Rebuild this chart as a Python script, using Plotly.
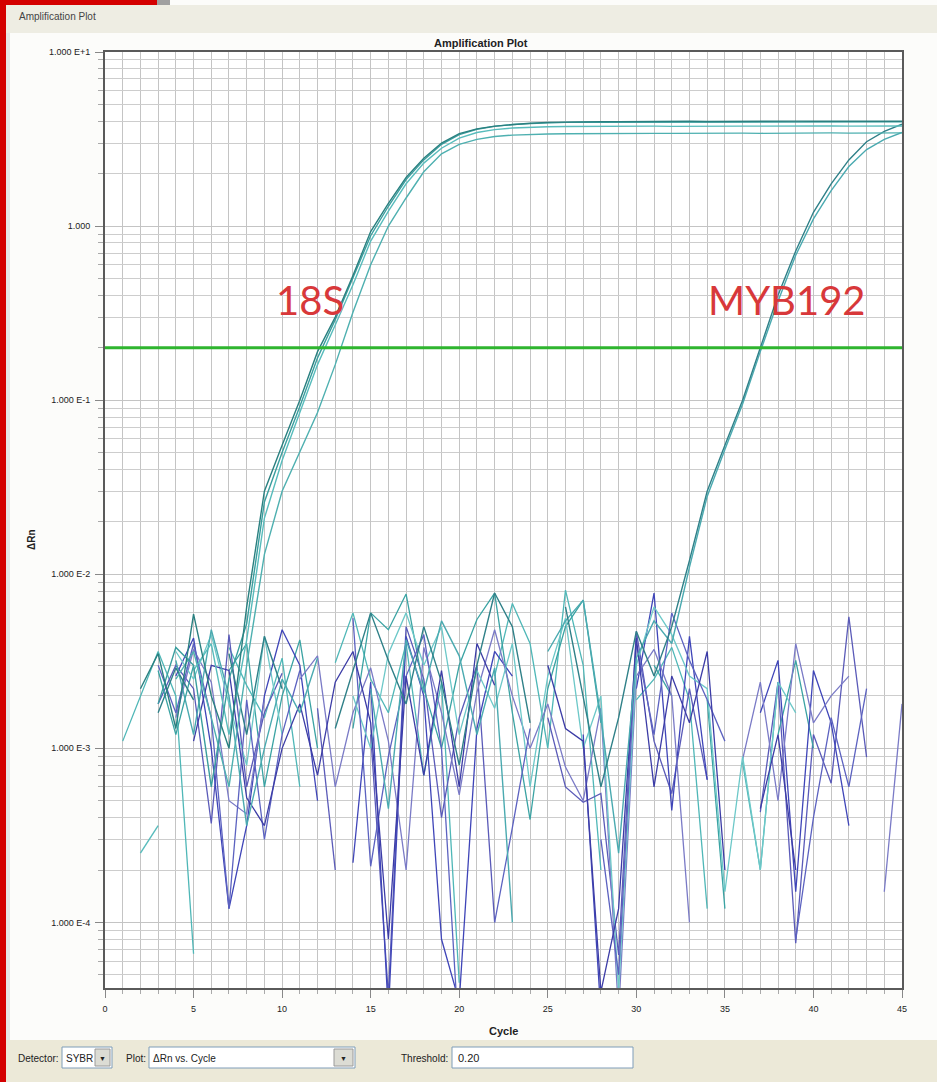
import math
import plotly.graph_objects as go

# ---------------- data ----------------
CYCLES = list(range(1, 46))
THRESHOLD = 0.20

# 18S wells: baseline noise (cycles 1-7) + amplification (cycles 8-45)
S18_1 = [None, 2.2e-3, 3.5e-3, 1.3e-3, 5.9e-3, 2.0e-3, 1.0e-3,
         0.0065, 0.030, 0.055, 0.10, 0.19, 0.30, 0.52, 0.93, 1.35, 1.9, 2.45, 3.0, 3.4,
         3.62, 3.75, 3.84, 3.90, 3.94, 3.96, 3.97, 3.98, 3.98, 3.99, 3.99, 4.00, 4.00, 3.99,
         4.00, 4.01, 4.00, 4.01, 4.01, 4.00, 4.01, 4.01, 4.00, 4.00, 4.00]
S18_2 = [None, None, 1.8e-3, 3.8e-3, 3.0e-3, 6.0e-4, 2.5e-3,
         0.0052, 0.026, 0.050, 0.092, 0.175, 0.29, 0.50, 0.88, 1.30, 1.85, 2.4, 2.95, 3.35,
         3.60, 3.74, 3.83, 3.88, 3.92, 3.94, 3.95, 3.95, 3.96, 3.96, 3.96, 3.97, 3.96, 3.97,
         3.97, 3.96, 3.97, 3.97, 3.96, 3.97, 3.97, 3.96, 3.97, 3.97, 3.97]
S18_3 = [None, 2.5e-4, 3.6e-4, None, 2.8e-3, 4.0e-3, 1.2e-3,
         0.0042, 0.021, 0.045, 0.085, 0.16, 0.27, 0.46, 0.82, 1.22, 1.75, 2.3, 2.8, 3.2,
         3.45, 3.58, 3.66, 3.70, 3.72, 3.73, 3.74, 3.74, 3.75, 3.75, 3.75, 3.74, 3.75, 3.75,
         3.76, 3.75, 3.75, 3.76, 3.75, 3.76, 3.76, 3.75, 3.76, 3.76, 3.76]
S18_4 = [None, None, None, 2.5e-3, 3.6e-3, 1.5e-3, 6.0e-4,
         0.0030, 0.013, 0.030, 0.050, 0.085, 0.16, 0.32, 0.60, 1.00, 1.45, 2.05, 2.6, 2.95,
         3.15, 3.27, 3.33, 3.37, 3.38, 3.39, 3.40, 3.40, 3.41, 3.40, 3.41, 3.41, 3.42, 3.41,
         3.42, 3.42, 3.41, 3.42, 3.42, 3.42, 3.43, 3.42, 3.43, 3.43, 3.43]

# MYB192 wells: baseline noise (cycles 1-31) + amplification (cycles 32-45)
MYB_1 = [None, None, 1.6e-3, 2.9e-3, 1.9e-3, None, 3.5e-3, 1.2e-3, 4.4e-3, 2.2e-3,
         None, None, 1.3e-3, 2.8e-3, 6.0e-3, 3.2e-3, 1.8e-3, 5.0e-3, 2.4e-3, 8.0e-4,
         3.0e-3, 7.8e-3, 5.0e-3, 1.4e-3, None, 6.5e-3, 2.0e-3, 6.0e-4, 1.5e-3, 4.7e-3,
         2.6e-3,
         0.005, 0.012, 0.030, 0.055, 0.10, 0.20, 0.40, 0.72, 1.20, 1.75, 2.40, 3.05, 3.50, 3.85]
MYB_2 = [None, None, None, 3.2e-3, 1.2e-3, 4.8e-3, 2.0e-3, 3.6e-4, 1.0e-3, 2.5e-3,
         1.6e-3, 3.3e-3, None, None, 2.2e-3, 4.5e-4, 4.2e-3, 2.1e-3, 5.4e-3, 3.4e-3,
         1.2e-3, 2.9e-3, 1.0e-4, None, 3.6e-3, 5.4e-3, 7.1e-3, 1.5e-3, 2.5e-4, 3.3e-3,
         5.4e-3,
         0.004, 0.011, 0.028, 0.052, 0.095, 0.19, 0.37, 0.68, 1.10, 1.60, 2.20, 2.75, 3.15, 3.45]

# non-amplifying wells (baseline noise, negative values not drawn)
NOISE_B1 = [None, None, 1.8e-3, 3.0e-3, 2.2e-3, 3.7e-4, 4.5e-3, 6.0e-4, 1.6e-3, 2.7e-3,
            None, 1.7e-3, 2.0e-4, None, 1.2e-3, 3.8e-5, 5.0e-3, 2.5e-3, 4.0e-4, 1.5e-3,
            3.0e-3, 1.0e-4, None, None, 1.5e-3, 6.0e-4, 4.9e-4, 5.5e-4, 6.5e-5, 4.7e-3,
            1.1e-3, 5.5e-4, 2.2e-3, 6.6e-4, None, None, 4.3e-4, 2.4e-3, 7.6e-5, 1.2e-3,
            6.3e-4, 5.7e-3, 8.9e-4, None, None]
NOISE_B2 = [None, None, None, 2.6e-3, 4.3e-3, 1.0e-3, 1.2e-4, 3.6e-4, 2.0e-3, 4.8e-3,
            3.0e-3, 5.0e-4, None, 2.2e-4, 2.4e-3, 3.0e-5, 4.4e-3, 2.0e-3, 8.0e-5, 3.5e-5,
            1.3e-3, 3.6e-3, 2.6e-3, None, None, None, 1.2e-3, 3.0e-5, None, 2.2e-3,
            7.8e-3, 4.4e-4, 4.4e-3, 6.6e-4, None, None, 1.6e-3, 3.2e-3, 1.5e-4, 2.8e-3,
            1.4e-3, 3.6e-4, None, None, None]
NOISE_B3 = [None, 2.6e-3, None, 1.5e-3, 3.7e-3, 2.4e-3, 5.0e-4, 4.2e-4, 1.9e-3, None,
            2.5e-3, 3.4e-3, 6.0e-4, 1.6e-3, 2.9e-3, 1.1e-3, 2.0e-4, 3.8e-3, 1.6e-3, 5.4e-4,
            2.1e-3, 4.8e-3, 2.0e-3, 1.0e-3, 1.8e-3, 7.8e-4, 5.0e-4, 1.7e-3, 3.0e-5, 2.6e-3,
            3.7e-3, 2.0e-3, 1.0e-4, None, None, 8.6e-4, 2.4e-3, 5.0e-4, 4.0e-3, 1.4e-3,
            2.0e-3, 2.6e-3, None, 1.5e-4, 1.8e-3]
NOISE_B4 = [None, None, 3.0e-3, 1.6e-3, 4.0e-3, 1.5e-3, 1.2e-4, 1.9e-3, 3.0e-4, 1.2e-3,
            2.8e-3, None, None, 5.6e-3, 2.1e-4, 9.0e-4, 2.6e-3, 4.5e-3, 1.0e-3, 2.0e-5,
            None, 1.0e-4, 3.5e-4, 1.3e-3, None, None, None, 3.0e-4, 5.0e-5, 4.0e-3,
            1.2e-3, 6.0e-3, 3.2e-3, 1.9e-3, 1.1e-3, None, None, None, 8.0e-5, 4.0e-4,
            1.5e-3, 6.0e-4, 2.2e-3, None, None]
NOISE_B5 = [None, None, None, None, 1.1e-3, 3.0e-3, 2.8e-3, 5.2e-4, 3.6e-4, 1.0e-3,
            1.8e-3, 7.0e-4, 2.4e-3, 3.6e-3, 1.4e-3, 8.0e-5, 2.6e-3, 7.0e-4, 2.8e-3, 6.0e-4,
            4.0e-3, 2.3e-3, None, None, 3.0e-3, 1.3e-3, 1.1e-3, 4.0e-5, 1.2e-4, 4.3e-3,
            6.0e-4, 2.6e-3, 1.4e-3, 3.6e-3, 2.0e-4, None, 4.5e-4, 1.2e-3, 2.0e-4, None,
            2.2e-3, None, None, None, None]
NOISE_G1 = [1.1e-3, 2.0e-3, 3.6e-3, 2.0e-3, 6.6e-5, None, 3.8e-3, 2.3e-3, 1.5e-3, 3.3e-3,
            6.0e-4, None, 3.1e-3, 6.0e-3, 2.5e-3, 1.6e-3, 4.0e-3, 7.0e-4, 2.4e-3, 4.5e-5,
            None, 2.6e-3, 6.8e-3, 4.0e-3, 1.0e-3, 8.1e-3, 3.0e-3, 2.0e-4, None, 1.9e-3,
            2.5e-3, 3.8e-3, 1.9e-3, 1.2e-4, None, 8.3e-4, 2.0e-4, 2.4e-3, None, None,
            None, None, None, None, None]
NOISE_G2 = [None, None, 2.8e-3, 1.2e-3, 3.0e-3, None, 2.8e-3, 4.0e-3, 6.0e-4, 2.0e-3,
            4.2e-3, 1.0e-3, None, 1.3e-3, 6.0e-3, 4.8e-3, 7.7e-3, 2.2e-3, 1.0e-3, 3.0e-3,
            5.5e-3, 7.8e-3, 1.6e-3, 3.9e-4, 2.2e-3, 5.0e-3, 7.1e-3, 1.4e-3, None, None,
            3.0e-3, 2.0e-3, None, 1.9e-3, 1.2e-4, None, None, 1.2e-3, 3.2e-3, 1.0e-3,
            None, None, None, None, None]
NOISE_G3 = [None, None, None, 3.6e-3, 2.5e-3, 4.5e-3, 1.8e-3, 8.0e-4, 4.4e-3, 1.2e-3,
            None, None, None, 2.0e-3, 1.0e-3, 3.5e-3, 6.0e-3, 3.0e-3, 5.0e-3, 1.2e-3,
            2.8e-3, 1.7e-3, 4.0e-3, 6.0e-4, 2.6e-3, 5.6e-3, 1.0e-3, 2.0e-3, 4.0e-5, 3.0e-3,
            6.5e-3, 4.5e-3, 2.6e-3, 2.2e-3, 1.5e-4, 9.0e-4, 2.0e-4, 2.4e-3, 1.6e-3, None,
            None, None, None, None, None]

Y_TICK_VALUES = [10, 1, 0.1, 0.01, 0.001, 0.0001]
Y_TICK_TEXT = ["1.000 E+1", "1.000", "1.000 E-1", "1.000 E-2", "1.000 E-3", "1.000 E-4"]
X_TICK_VALUES = [0, 5, 10, 15, 20, 25, 30, 35, 40, 45]

# ---------------- geometry helpers (layout only) ----------------
W_PX, H_PX = 937, 1082
L, R, T, B = 105, 902, 52, 988


def pxx(x):
    return (x - L) / (R - L)


def pxy(y):
    return (B - y) / (B - T)


fig = go.Figure()

noise_sets = [
    (NOISE_G1, "#4fb7b7"), (NOISE_B1, "#5a5ab8"), (NOISE_G2, "#3aa3a3"),
    (NOISE_B2, "#3f45b8"), (NOISE_B3, "#7a7ac6"), (NOISE_G3, "#6cc8c8"),
    (NOISE_B4, "#5c62c0"), (NOISE_B5, "#3c3ca6"),
]
for vals, col in noise_sets:
    fig.add_trace(go.Scatter(x=CYCLES, y=vals, mode="lines",
                             line=dict(color=col, width=1.3),
                             connectgaps=False, showlegend=False, hoverinfo="skip"))

amp_sets = [
    (MYB_2, "#4aaab0"), (MYB_1, "#2f8088"),
    (S18_4, "#4eb0b0"), (S18_3, "#58bcbc"), (S18_2, "#3a9e9e"), (S18_1, "#2a8080"),
]
for vals, col in amp_sets:
    fig.add_trace(go.Scatter(x=CYCLES, y=vals, mode="lines",
                             line=dict(color=col, width=1.4),
                             connectgaps=False, showlegend=False, hoverinfo="skip"))

# threshold line
fig.add_trace(go.Scatter(x=[0, 45], y=[THRESHOLD, THRESHOLD], mode="lines",
                         line=dict(color="#2fb52f", width=3.2),
                         showlegend=False, hoverinfo="skip"))

minor_y = [m * 10.0 ** d for d in range(-5, 1) for m in range(2, 10)]

font_ui = "Liberation Sans, Arial, sans-serif"

fig.update_layout(
    width=W_PX, height=H_PX,
    margin=dict(l=L, r=W_PX - R, t=T, b=H_PX - B),
    paper_bgcolor="#fcfcfa",
    plot_bgcolor="#ffffff",
    font=dict(family=font_ui, size=9, color="#222"),
    xaxis=dict(
        range=[0, 45], tickvals=X_TICK_VALUES, ticks="outside", ticklen=8,
        tickcolor="#888", tickfont=dict(size=9, color="#222"),
        showgrid=True, gridcolor="#c4c4c4", gridwidth=1,
        minor=dict(dtick=1, showgrid=True, gridcolor="#c4c4c4", gridwidth=1,
                   ticks="outside", ticklen=4, tickcolor="#aaa"),
        showline=True, linecolor="#5a5a5a", linewidth=2, mirror=True,
        zeroline=False, ticklabelstandoff=3,
    ),
    yaxis=dict(
        type="log", range=[math.log10(4.2e-5), 1],
        tickvals=Y_TICK_VALUES, ticktext=Y_TICK_TEXT,
        ticks="outside", ticklen=8, tickcolor="#888",
        tickfont=dict(size=9, color="#222"),
        showgrid=True, gridcolor="#c4c4c4", gridwidth=1,
        minor=dict(tickvals=minor_y, showgrid=True, gridcolor="#cdcdcd", gridwidth=1,
                   ticks="outside", ticklen=5, tickcolor="#aaa"),
        showline=True, linecolor="#5a5a5a", linewidth=2, mirror=True,
        zeroline=False, ticklabelstandoff=3,
    ),
)

shapes = []


def rect(x0, y0, x1, y1, fill, line_col=None, lw=0, layer="below"):
    shapes.append(dict(type="rect", xref="paper", yref="paper",
                       x0=pxx(x0), x1=pxx(x1), y0=pxy(y1), y1=pxy(y0),
                       fillcolor=fill, line=dict(color=line_col or fill, width=lw),
                       layer=layer))


# window chrome
rect(0, 5, W_PX, 33, "#eeede3")
rect(5, 33, 10, 1040, "#e6e6e6")
rect(0, 1040, W_PX, H_PX, "#ece9d8")
rect(0, 0, 6, H_PX, "#d40000", layer="above")
rect(0, 0, 157, 5, "#d40000", layer="above")
rect(157, 0, 170, 5, "#a0a0a0", layer="above")
# toolbar controls
rect(62, 1047, 112, 1068, "#ffffff", "#7f9db9", 1)
rect(95, 1049, 110, 1066, "#dcdcd4", "#9a9a9a", 1)
rect(149, 1047, 355, 1068, "#ffffff", "#7f9db9", 1)
rect(334, 1049, 353, 1066, "#dcdcd4", "#9a9a9a", 1)
rect(452, 1047, 633, 1068, "#ffffff", "#7f9db9", 1)

annotations = [
    dict(text="Amplification Plot", x=pxx(17), y=pxy(17), xanchor="left", yanchor="middle",
         font=dict(size=10, color="#444"), showarrow=False),
    dict(text="<b>Amplification Plot</b>", x=pxx(481), y=pxy(43), xanchor="center",
         yanchor="middle", font=dict(size=11, color="#222"), showarrow=False),
    dict(text="<b>Cycle</b>", x=pxx(503), y=pxy(1031), xanchor="center", yanchor="middle",
         font=dict(size=11, color="#222"), showarrow=False),
    dict(text="<b>ΔRn</b>", x=pxx(31), y=pxy(540), xanchor="center", yanchor="middle",
         textangle=-90, font=dict(size=10, color="#222"), showarrow=False),
    dict(text="Detector:", x=pxx(61), y=pxy(1058), xanchor="right", yanchor="middle",
         font=dict(size=10, color="#222"), showarrow=False),
    dict(text="SYBR", x=pxx(64), y=pxy(1058), xanchor="left", yanchor="middle",
         font=dict(size=10, color="#222"), showarrow=False),
    dict(text="▼", x=pxx(102.5), y=pxy(1058), xanchor="center", yanchor="middle",
         font=dict(size=7, color="#222"), showarrow=False),
    dict(text="Plot:", x=pxx(148), y=pxy(1058), xanchor="right", yanchor="middle",
         font=dict(size=10, color="#222"), showarrow=False),
    dict(text="ΔRn vs. Cycle", x=pxx(151), y=pxy(1058), xanchor="left", yanchor="middle",
         font=dict(size=10, color="#222"), showarrow=False),
    dict(text="▼", x=pxx(343.5), y=pxy(1058), xanchor="center", yanchor="middle",
         font=dict(size=7, color="#222"), showarrow=False),
    dict(text="Threshold:", x=pxx(450), y=pxy(1058), xanchor="right", yanchor="middle",
         font=dict(size=10, color="#222"), showarrow=False),
    dict(text="0.20", x=pxx(456), y=pxy(1058), xanchor="left", yanchor="middle",
         font=dict(size=11, color="#222"), showarrow=False),
    # gene labels
    dict(text="18S", xref="x", yref="y", x=11.6, y=math.log10(0.376),
         xanchor="center", yanchor="middle",
         font=dict(family="Lato, Open Sans, sans-serif", size=40, color="#d8383a"),
         showarrow=False),
    dict(text="MYB192", xref="x", yref="y", x=38.5, y=math.log10(0.376),
         xanchor="center", yanchor="middle",
         font=dict(family="Lato, Open Sans, sans-serif", size=40, color="#d8383a"),
         showarrow=False),
]
for a in annotations:
    a.setdefault("xref", "paper")
    a.setdefault("yref", "paper")

fig.update_layout(shapes=shapes, annotations=annotations)
fig.write_html("out.html")
